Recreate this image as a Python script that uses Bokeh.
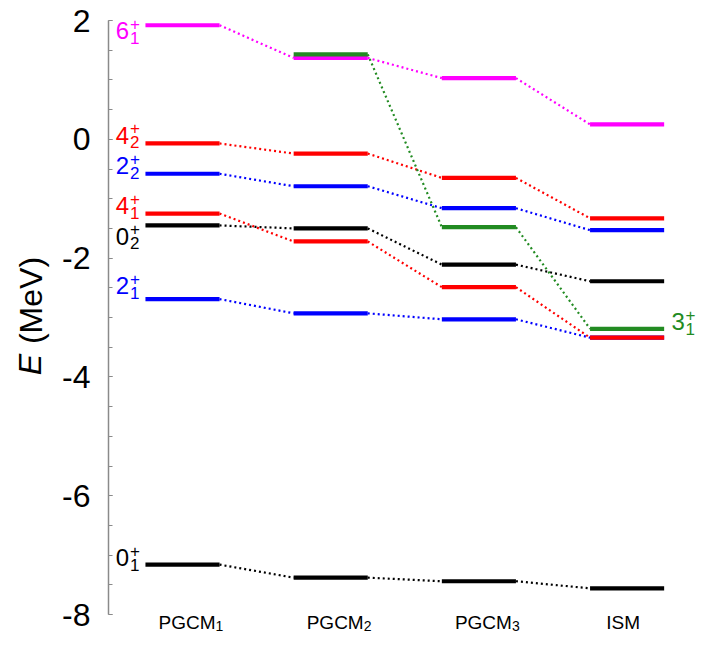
import math
from bokeh.plotting import figure
from bokeh.models import ColumnDataSource, Range1d, FixedTicker, PrintfTickFormatter
from bokeh.core.properties import value
from bokeh.embed import file_html
from bokeh.resources import INLINE

# ---- data -------------------------------------------------------------
model_names = ["PGCM", "PGCM", "PGCM", "ISM"]
model_subscripts = ["1", "2", "3", ""]

state_keys = ["2_1", "2_2", "0_1", "0_2", "4_1", "4_2", "6_1", "3_1"]
state_spins = ["2", "2", "0", "0", "4", "4", "6", "3"]
state_index = ["1", "2", "1", "2", "1", "2", "1", "1"]
state_colors = ["#0000ff", "#0000ff", "#000000", "#000000",
                "#ff0000", "#ff0000", "#ff00ff", "#228b22"]

# excitation energies (MeV) per model: PGCM1, PGCM2, PGCM3, ISM
e_2_1 = [-2.69, -2.93, -3.03, -3.34]
e_2_2 = [-0.58, -0.79, -1.16, -1.53]
e_0_1 = [-7.16, -7.38, -7.44, -7.56]
e_0_2 = [-1.45, -1.50, -2.11, -2.39]
e_4_1 = [-1.25, -1.72, -2.49, -3.34]
e_4_2 = [-0.07, -0.24, -0.65, -1.33]
e_6_1 = [1.92, 1.37, 1.03, 0.25]
e_3_1 = [math.nan, 1.43, -1.48, -3.19]

energies = [e_2_1, e_2_2, e_0_1, e_0_2, e_4_1, e_4_2, e_6_1, e_3_1]

y_ticks = [-8, -6, -4, -2, 0, 2]
y_minor_ticks = [-8 + 0.5 * k for k in range(21)]

# ---- layout -------------------------------------------------------------
PX_Y = 59.4      # pixels per MeV
PX_X = 148.2     # pixels per model column
AXIS_PX = 108    # horizontal position of the energy axis
W, H = 705, 646
HALF = 0.25      # half width of a level bar (column units)


def col_x(px):
    """column coordinate of a horizontal pixel position"""
    return 1 - (182 - px) / PX_X


def e_y(px):
    """energy coordinate of a vertical pixel position"""
    return 2 - (px - 20) / PX_Y


FONT = value("Liberation Sans")

p = figure(width=W, height=H, x_range=Range1d(col_x(0), col_x(W)),
           y_range=Range1d(e_y(H), e_y(0)),
           output_backend="svg", toolbar_location=None,
           x_axis_location=None, y_axis_location="left",
           min_border_left=0, min_border_right=0,
           min_border_top=0, min_border_bottom=0)
p.grid.visible = False
p.outline_line_color = None
p.background_fill_color = "white"
p.border_fill_color = "white"

ax = p.yaxis[0]
ax.fixed_location = col_x(AXIS_PX)
ax.bounds = (-8, 2)
ax.ticker = FixedTicker(ticks=y_ticks, minor_ticks=y_minor_ticks)
ax.formatter = PrintfTickFormatter(format="%d")
ax.axis_line_color = "#8a8a8a"
ax.axis_line_width = 1.5
ax.major_tick_line_color = "#8a8a8a"
ax.minor_tick_line_color = "#8a8a8a"
ax.major_tick_line_width = 1.2
ax.minor_tick_line_width = 1.2
ax.major_tick_in = 4
ax.major_tick_out = 0
ax.minor_tick_in = 4
ax.minor_tick_out = 0
ax.major_label_standoff = 18
ax.major_label_text_font = "Liberation Sans"
ax.major_label_text_font_size = "32px"
ax.major_label_text_color = "black"

# ---- levels and connectors ------------------------------------------------
lv = dict(x0=[], x1=[], y=[], c=[])
cn = dict(x0=[], x1=[], y0=[], y1=[], c=[])
for e, col in zip(energies, state_colors):
    for i, v in enumerate(e):
        xc = i + 1
        if not math.isnan(v):
            lv["x0"].append(xc - HALF)
            lv["x1"].append(xc + HALF)
            lv["y"].append(v)
            lv["c"].append(col)
        if i + 1 < len(e) and not math.isnan(v) and not math.isnan(e[i + 1]):
            cn["x0"].append(xc + HALF)
            cn["x1"].append(xc + 1 - HALF)
            cn["y0"].append(v)
            cn["y1"].append(e[i + 1])
            cn["c"].append(col)

p.segment(x0="x0", y0="y0", x1="x1", y1="y1", color="c", line_width=2.2,
          line_dash="2 3", source=ColumnDataSource(cn))
p.segment(x0="x0", y0="y", x1="x1", y1="y", color="c", line_width=4.2,
          source=ColumnDataSource(lv))

# ---- state labels (J with index subscript and parity superscript) ----------
label_shift_px = {"6_1": 5.5, "4_2": -8, "2_2": -8, "4_1": -8,
                  "0_2": 11, "2_1": -13.5, "0_1": -7, "3_1": -7}
sl = dict(x=[], y=[], t=[], c=[])
ss = dict(x=[], y=[], t=[], c=[])
for key, spin, idx, col, e in zip(state_keys, state_spins, state_index,
                                  state_colors, energies):
    if key == "3_1":
        xd, xs, yv = 4 + 51 / PX_X, 4 + 58.5 / PX_X, e[3]
    else:
        xd, xs, yv = 1 - 60 / PX_X, 1 - 52.5 / PX_X, e[0]
    yl = yv - label_shift_px[key] / PX_Y
    sl["x"].append(xd); sl["y"].append(yl); sl["t"].append(spin); sl["c"].append(col)
    ss["x"] += [xs, xs]
    ss["y"] += [yl + 7 / PX_Y, yl - 7 / PX_Y]
    ss["t"] += ["+", idx]
    ss["c"] += [col, col]

p.text(x="x", y="y", text="t", text_color="c", source=ColumnDataSource(sl),
       text_font=FONT, text_font_size="24px", text_align="center",
       text_baseline="middle")
p.text(x="x", y="y", text="t", text_color="c", source=ColumnDataSource(ss),
       text_font=FONT, text_font_size="17px", text_align="left",
       text_baseline="middle")

# ---- model names along the bottom -------------------------------------------
mn = dict(x=[], y=[], t=[])
ms = dict(x=[], y=[], t=[])
for i, (name, sub) in enumerate(zip(model_names, model_subscripts)):
    xc = i + 1
    if sub:
        mn["x"].append(xc + 4.5 / PX_X)
        ms["x"].append(xc + 33 / PX_X)
        ms["y"].append(e_y(625.5))
        ms["t"].append(sub)
    else:
        mn["x"].append(xc - 4 / PX_X)
    mn["y"].append(e_y(621.5))
    mn["t"].append(name)

p.text(x="x", y="y", text="t", source=ColumnDataSource(mn), text_color="black",
       text_font=FONT, text_font_size="19px", text_align="center",
       text_baseline="alphabetic")
p.text(x="x", y="y", text="t", source=ColumnDataSource(ms), text_color="black",
       text_font=FONT, text_font_size="14px", text_align="left",
       text_baseline="alphabetic")

# ---- vertical axis title: italic E followed by (MeV) --------------------------
p.text(x=[col_x(29.5)], y=[e_y(364)], text=["E"], angle=math.pi / 2,
       text_font=FONT, text_font_style="italic", text_font_size="32px",
       text_color="black", text_align="center", text_baseline="middle")
p.text(x=[col_x(30)], y=[e_y(300)], text=["(MeV)"], angle=math.pi / 2,
       text_font=FONT, text_font_size="32px", text_color="black",
       text_align="center", text_baseline="middle")

open("out.html", "w").write(file_html(p, INLINE))
